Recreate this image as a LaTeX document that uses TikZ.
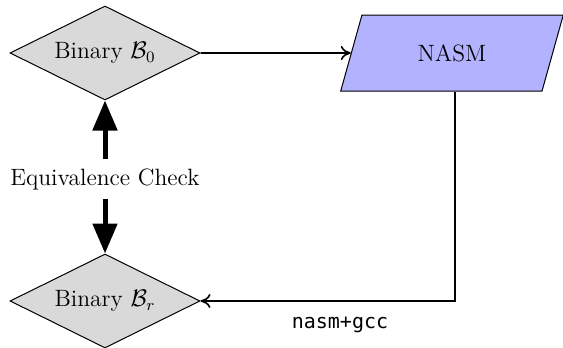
\documentclass[tikz,border=0pt]{standalone}
\usepackage{fontspec}
\setmonofont{DejaVu Sans Mono}
\usetikzlibrary{shapes.geometric,arrows.meta}
\begin{document}
\begin{tikzpicture}[x=0.5pt,y=-0.5pt,
  bin/.style={diamond,draw,line width=0.5pt,fill=gray!30,aspect=2,inner sep=0pt,
    minimum width=95pt,minimum height=47pt,font=\fontsize{11.8}{14}\selectfont},
  io/.style={trapezium,trapezium stretches=true,trapezium left angle=72.5,
    trapezium right angle=107.5,draw,line width=0.5pt,fill=blue!30,
    minimum width=111.5pt,minimum height=38pt,font=\fontsize{11.8}{14}\selectfont},
  flow/.style={line width=0.8pt,-{To[length=5pt,width=7pt]}},
  bigarrow/.style={line width=2.5pt,-{Triangle[length=15pt,width=12pt]}},
  lbl/.style={font=\fontsize{11.8}{14}\selectfont,inner sep=4.5pt}]
\useasboundingbox (0,0) rectangle (563,348);
\node[bin] (b0) at (105,53) {Binary $\mathcal{B}_0$};
\node[bin] (br) at (105,301) {Binary $\mathcal{B}_r$};
\node[io] (nasm) at (452,53) {NASM};
\node[lbl] (eq) at (105,179) {Equivalence Check};
\node[font=\ttfamily\fontsize{10}{12}\selectfont,inner sep=0pt] (gcc) at (340,325) {nasm+gcc};
\draw[flow] (b0.east) -- (nasm.west);
\draw[flow] (nasm.south -| 455,0) |- (br.east);
\draw[bigarrow] (eq.north) -- (b0.south);
\draw[bigarrow] (eq.south) -- (br.north);
\end{tikzpicture}
\end{document}
